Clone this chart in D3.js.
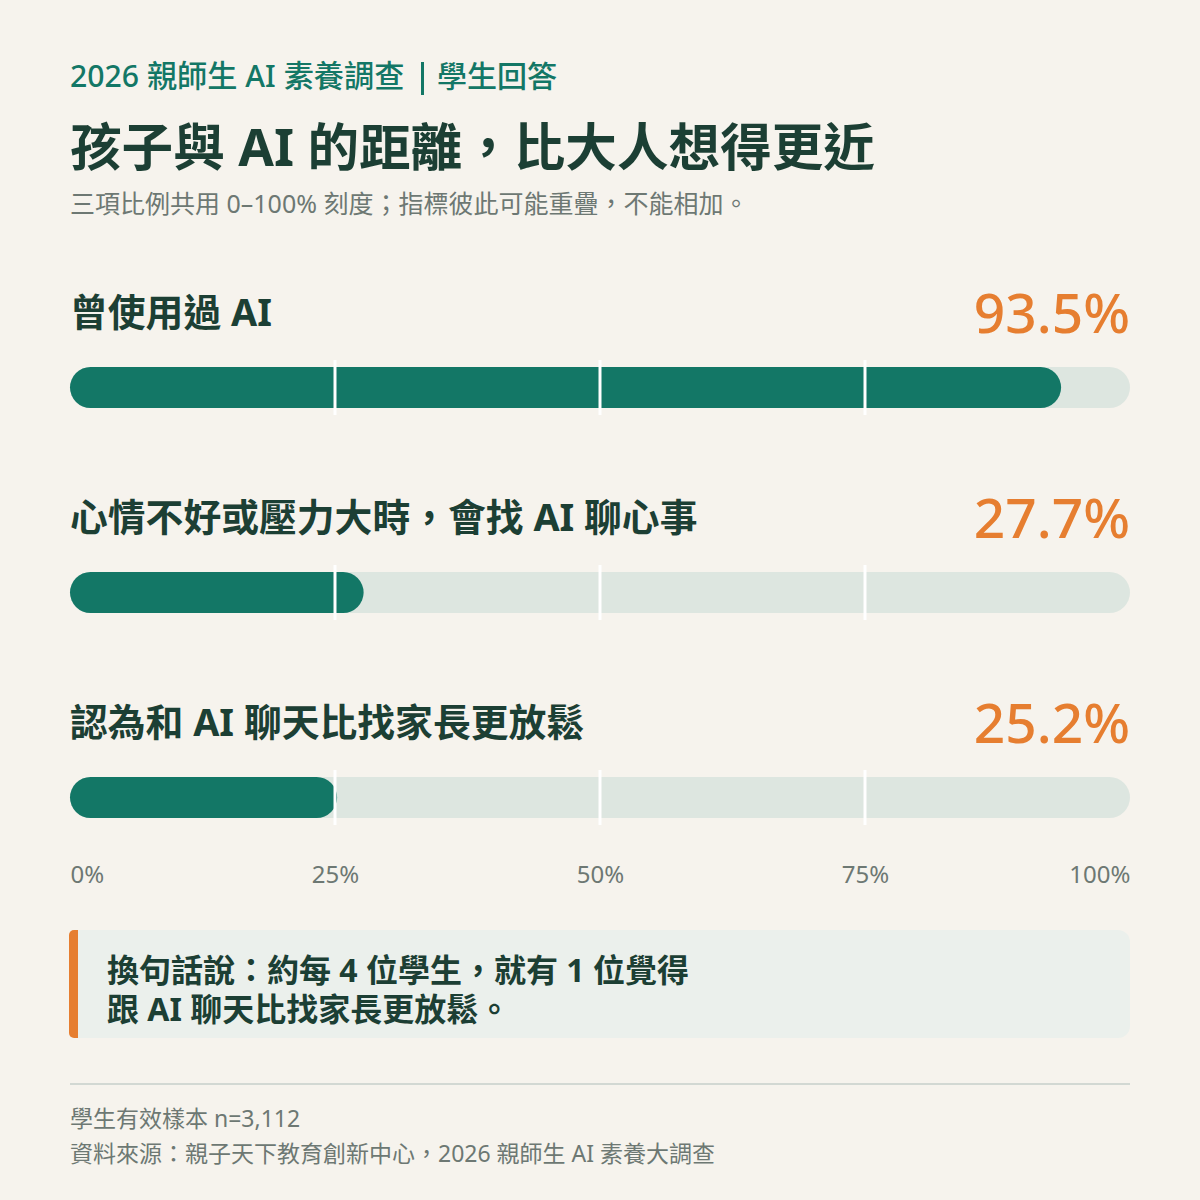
<!DOCTYPE html>
<html lang="zh-Hant"><head><meta charset="utf-8">
<script src="https://cdn.jsdelivr.net/npm/d3@7"></script>
<style>
html,body{margin:0;padding:0;background:#f6f3ed;}
svg{display:block;}
text{font-family:"Noto Sans","Noto Sans CJK TC",sans-serif;}
</style></head>
<body>
<script>
const categories = ["曾使用過 AI", "心情不好或壓力大時，會找 AI 聊心事", "認為和 AI 聊天比找家長更放鬆"];
const values = [93.5, 27.7, 25.2];
const valueLabels = ["93.5%", "27.7%", "25.2%"];
const tickValues = [0, 25, 50, 75, 100];
const tickLabels = ["0%", "25%", "50%", "75%", "100%"];
const kickerLeft = "2026 親師生 AI 素養調查";
const kickerRight = "學生回答";
const title = "孩子與 AI 的距離，比大人想得更近";
const subtitle = "三項比例共用 0–100% 刻度；指標彼此可能重疊，不能相加。";
const calloutLines = ["換句話說：約每 4 位學生，就有 1 位覺得", "跟 AI 聊天比找家長更放鬆。"];
const footerLines = ["學生有效樣本 n=3,112", "資料來源：親子天下教育創新中心，2026 親師生 AI 素養大調查"];

const W = 1200, H = 1200;
const svg = d3.select("body").append("svg").attr("width", W).attr("height", H).attr("lang", "zh-Hant");
svg.append("rect").attr("width", W).attr("height", H).attr("fill", "#f6f3ed");

const x = d3.scaleLinear().domain([0, 100]).range([70, 1130]);
const rowY = d3.scaleBand().domain(categories).range([262, 877]);

const green = "#137766", dark = "#1c3f34", orange = "#e67e30", gray = "#6d7873";

// header
svg.append("text").attr("x", 70).attr("y", 87).attr("font-size", 30.2).attr("font-weight", 500)
  .attr("fill", green).text(kickerLeft);
svg.append("rect").attr("x", 421).attr("y", 62).attr("width", 3).attr("height", 33).attr("fill", green);
svg.append("text").attr("x", 437).attr("y", 87).attr("font-size", 30).attr("font-weight", 500)
  .attr("fill", green).text(kickerRight);
svg.append("text").attr("x", 70).attr("y", 166).attr("font-size", 51.6).attr("font-weight", 700)
  .attr("fill", dark).text(title);
svg.append("text").attr("x", 70).attr("y", 213).attr("font-size", 25).attr("font-weight", 400)
  .attr("fill", gray).text(subtitle);

const rows = svg.append("g").selectAll("g").data(categories).join("g")
  .attr("transform", d => `translate(0,${rowY(d)})`);

rows.append("text").attr("x", 70).attr("y", 64).attr("font-size", 37.8).attr("font-weight", 700)
  .attr("fill", dark).text(d => d);
rows.append("text").attr("x", 1130).attr("y", 71).attr("text-anchor", "end").attr("font-size", 55)
  .attr("font-weight", 500).attr("fill", orange).text((d, i) => valueLabels[i]);

const barTop = 105, barH = 41;
rows.append("rect").attr("x", x(0)).attr("y", barTop).attr("width", x(100) - x(0)).attr("height", barH)
  .attr("rx", barH / 2).attr("fill", "#dde6e0");
rows.append("rect").attr("x", x(0)).attr("y", barTop)
  .attr("width", (d, i) => x(values[i]) - x(0)).attr("height", barH)
  .attr("rx", barH / 2).attr("fill", green);
rows.selectAll("line.grid").data([25, 50, 75]).join("line").attr("class", "grid")
  .attr("x1", d => x(d)).attr("x2", d => x(d)).attr("y1", barTop - 7).attr("y2", barTop + barH + 7)
  .attr("stroke", "#ffffff").attr("stroke-width", 3);

// axis tick labels
const axis = svg.append("g").attr("transform", "translate(0,883)")
  .call(d3.axisBottom(x).tickValues(tickValues).tickSize(0).tickPadding(0)
    .tickFormat((d, i) => tickLabels[i]));
axis.select(".domain").remove();
axis.selectAll("text").attr("font-size", 24).attr("fill", gray)
  .attr("font-family", '"Noto Sans","Noto Sans CJK TC",sans-serif')
  .attr("y", 0).attr("dy", 0)
  .attr("text-anchor", (d, i) => i === 0 ? "start" : (i === tickValues.length - 1 ? "end" : "middle"));

// callout
svg.append("rect").attr("x", 70).attr("y", 930).attr("width", 1060).attr("height", 108).attr("rx", 12)
  .attr("fill", "#ebf0ec");
svg.append("rect").attr("x", 69).attr("y", 930).attr("width", 14).attr("height", 108).attr("rx", 5)
  .attr("fill", orange);
svg.append("rect").attr("x", 78).attr("y", 930).attr("width", 8).attr("height", 108).attr("fill", "#ebf0ec");
svg.append("g").selectAll("text").data(calloutLines).join("text")
  .attr("x", 107).attr("y", (d, i) => 982 + i * 39).attr("font-size", 32).attr("font-weight", 700)
  .attr("fill", dark).text(d => d);

// footer
svg.append("line").attr("x1", 70).attr("x2", 1130).attr("y1", 1084).attr("y2", 1084)
  .attr("stroke", "#d2d8d3").attr("stroke-width", 2);
svg.append("g").selectAll("text").data(footerLines).join("text")
  .attr("x", 70).attr("y", (d, i) => 1127 + i * 35).attr("font-size", 23)
  .attr("fill", gray).text(d => d);
</script>
</body></html>
